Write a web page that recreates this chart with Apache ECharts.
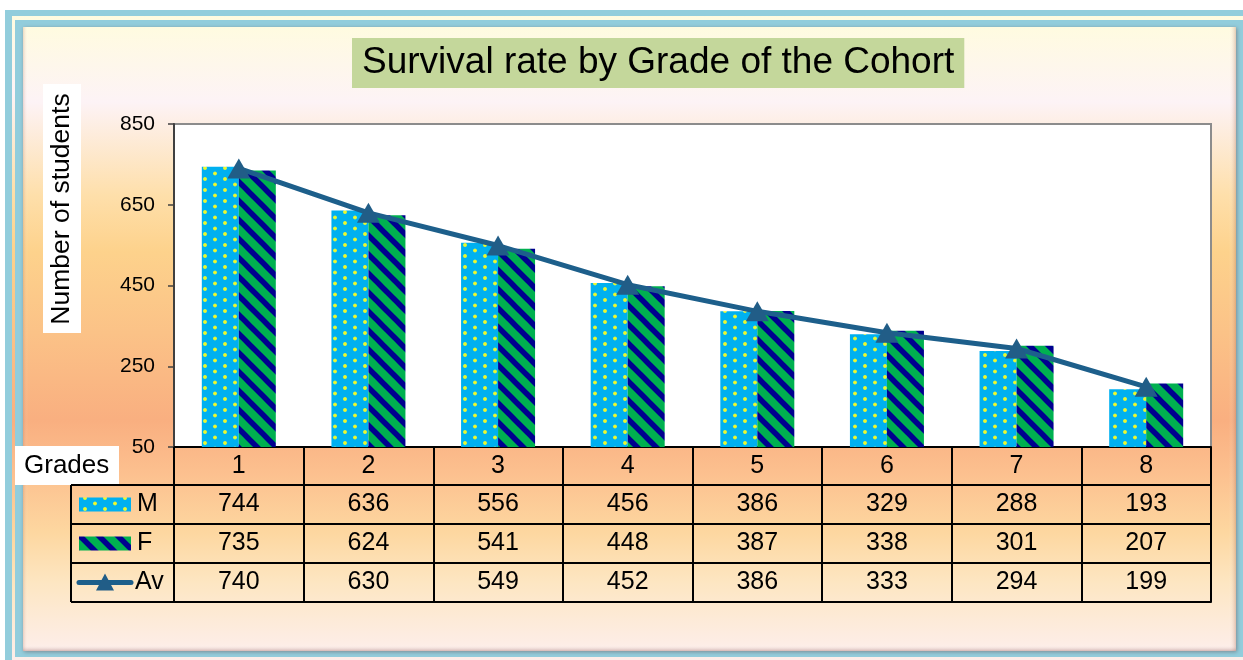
<!DOCTYPE html>
<html>
<head>
<meta charset="utf-8">
<script src="https://cdn.jsdelivr.net/npm/echarts@6/dist/echarts.min.js"></script>
<style>
html, body { margin: 0; padding: 0; background: #ffffff; }
#chart { width: 1243px; height: 660px; }
</style>
</head>
<body>
<div id="chart"></div>
<script>
// ---- data ----
const grades  = ['1', '2', '3', '4', '5', '6', '7', '8'];
const male    = [744, 636, 556, 456, 386, 329, 288, 193];
const female  = [735, 624, 541, 448, 387, 338, 301, 207];
const average = [740, 630, 549, 452, 386, 333, 294, 199];
const seriesNames = ['M', 'F', 'Av'];
const yMin = 50, yMax = 850, yStep = 200;

// ---- layout ----
const FONT = "'Liberation Sans', Arial, sans-serif";
const G = { left: 174, top: 124, right: 1211, bottom: 447 };
const rowOffsets = [38, 77, 116, 155];        // table row lines below the plot
const legendColX = 71;
const LINE_COLOR = '#1d5f8b';

// ---- fill patterns ----
function dotTile() {
  const c = document.createElement('canvas');
  c.width = 20; c.height = 22;
  const g = c.getContext('2d');
  g.fillStyle = '#00b0f0';
  g.fillRect(0, 0, 20, 22);
  [[5, 3], [15, 8.5], [5, 14], [15, 19.5]].forEach(([x, y]) => {
    const rg = g.createRadialGradient(x, y, 0, x, y, 2.5);
    rg.addColorStop(0, '#f8ff20');
    rg.addColorStop(0.6, '#daf23c');
    rg.addColorStop(1, 'rgba(120,220,170,0)');
    g.fillStyle = rg;
    g.beginPath(); g.arc(x, y, 2.5, 0, Math.PI * 2); g.fill();
  });
  return c;
}
function stripeTile() {
  const s = 19;
  const c = document.createElement('canvas');
  c.width = s; c.height = s;
  const g = c.getContext('2d');
  g.fillStyle = '#00b050';
  g.fillRect(0, 0, s, s);
  g.strokeStyle = '#00008f';
  g.lineWidth = 5.5;
  [-s, 0, s].forEach(k => {
    g.beginPath(); g.moveTo(-3, -3 + k); g.lineTo(s + 3, s + 3 + k); g.stroke();
  });
  return c;
}
const malePattern = { image: dotTile(), repeat: 'repeat' };
const femalePattern = { image: stripeTile(), repeat: 'repeat' };

// ---- background gradient ----
function panelGradient() {
  return {
    type: 'linear', x: 0, y: 0, x2: 0, y2: 1,
    colorStops: [
      { offset: 0.00, color: '#fffbe0' },
      { offset: 0.12, color: '#fdf3f6' },
      { offset: 0.27, color: '#fedfaa' },
      { offset: 0.36, color: '#fdd28c' },
      { offset: 0.49, color: '#fbc287' },
      { offset: 0.63, color: '#f9af80' },
      { offset: 0.71, color: '#fcbf8e' },
      { offset: 0.81, color: '#fdd7a0' },
      { offset: 0.89, color: '#fde6c2' },
      { offset: 1.00, color: '#fdeeea' }
    ]
  };
}

// ---- table axes (value rows) ----
function tableAxis(values, offset, showLabels) {
  return {
    type: 'category',
    gridIndex: 0,
    position: 'bottom',
    offset: offset,
    data: values.map(String),
    axisLine: { show: true, lineStyle: { color: '#000', width: 2 } },
    axisTick: { show: false },
    axisLabel: {
      show: showLabels, interval: 0, margin: 7,
      color: '#000', fontSize: 25, lineHeight: 25, fontFamily: FONT
    },
    splitLine: { show: false }
  };
}

// ---- decorations drawn as graphic elements ----
const rowLines = [G.bottom + rowOffsets[0], G.bottom + rowOffsets[1], G.bottom + rowOffsets[2], G.bottom + rowOffsets[3]];
const rowCenters = [
  (G.bottom + rowLines[0]) / 2,
  (rowLines[0] + rowLines[1]) / 2,
  (rowLines[1] + rowLines[2]) / 2,
  (rowLines[2] + rowLines[3]) / 2
];
const txt = (x, y, text, extra) => ({
  type: 'text', x: x, y: y, z: 120,
  style: Object.assign({ text: text, fill: '#000', font: '25px ' + FONT, align: 'left', verticalAlign: 'middle' }, extra || {})
});

const graphics = [
  // frame
  { type: 'rect', z: -30, shape: { x: 5, y: 10, width: 1238, height: 650 }, style: { fill: '#92cddc' } },
  { type: 'rect', z: -29, shape: { x: 12, y: 16, width: 1231, height: 644 }, style: { fill: panelGradient() } },
  { type: 'rect', z: -28, shape: { x: 15, y: 20, width: 1228, height: 637 }, style: { fill: '#92cddc' } },
  { type: 'rect', z: -27, shape: { x: 23, y: 27, width: 1213, height: 624 },
    style: { fill: panelGradient(), shadowBlur: 4, shadowColor: 'rgba(90,60,60,0.45)', shadowOffsetX: 1, shadowOffsetY: 1 } },
  { type: 'rect', z: -26, shape: { x: 1229, y: 27, width: 7, height: 624 },
    style: { fill: { type: 'linear', x: 0, y: 0, x2: 1, y2: 0, colorStops: [
      { offset: 0, color: 'rgba(255,255,255,0)' }, { offset: 1, color: 'rgba(170,110,90,0.35)' }] } } },
  { type: 'rect', z: -26, shape: { x: 23, y: 645, width: 1213, height: 6 },
    style: { fill: { type: 'linear', x: 0, y: 0, x2: 0, y2: 1, colorStops: [
      { offset: 0, color: 'rgba(255,255,255,0)' }, { offset: 1, color: 'rgba(150,100,100,0.4)' }] } } },
  { type: 'rect', z: -26, shape: { x: 23, y: 27, width: 5, height: 624 },
    style: { fill: { type: 'linear', x: 0, y: 0, x2: 1, y2: 0, colorStops: [
      { offset: 0, color: 'rgba(170,110,90,0.25)' }, { offset: 1, color: 'rgba(255,255,255,0)' }] } } },

  // y-axis title
  { type: 'rect', z: 110, shape: { x: 43, y: 84, width: 38, height: 249 }, style: { fill: '#ffffff' } },
  { type: 'text', z: 120, x: 62, y: 209, rotation: Math.PI / 2,
    style: { text: 'Number of students', fill: '#000', font: '26.5px ' + FONT, align: 'center', verticalAlign: 'middle' } },

  // "Grades" header cell
  { type: 'rect', z: 110, shape: { x: 15, y: 446, width: 104, height: 39 }, style: { fill: '#ffffff' } },
  txt(24, rowCenters[0], 'Grades', { font: '26px ' + FONT }),

  // legend column of the data table
  { type: 'line', z: 115, shape: { x1: legendColX, y1: rowLines[0], x2: legendColX, y2: rowLines[3] }, style: { stroke: '#000', lineWidth: 2 } },
  ...rowLines.map(y => ({ type: 'line', z: 115, shape: { x1: legendColX, y1: y, x2: G.left, y2: y }, style: { stroke: '#000', lineWidth: 2 } })),
  { type: 'rect', z: 115, shape: { x: 79, y: rowCenters[1] - 7, width: 52, height: 14 }, style: { fill: malePattern } },
  { type: 'rect', z: 115, shape: { x: 79, y: rowCenters[2] - 7, width: 52, height: 14 }, style: { fill: femalePattern } },
  { type: 'line', z: 115, shape: { x1: 79, y1: rowCenters[3], x2: 131, y2: rowCenters[3] },
    style: { stroke: LINE_COLOR, lineWidth: 5, lineCap: 'round' } },
  { type: 'polygon', z: 116, shape: { points: [[96, rowCenters[3] + 8], [114, rowCenters[3] + 8], [105, rowCenters[3] - 9]] },
    style: { fill: '#215d87' } },
  txt(137, rowCenters[1], seriesNames[0]),
  txt(137, rowCenters[2], seriesNames[1]),
  txt(135, rowCenters[3], seriesNames[2])
];

// ---- chart ----
const chart = echarts.init(document.getElementById('chart'), null, { renderer: 'canvas' });
chart.setOption({
  animation: false,
  backgroundColor: 'transparent',
  textStyle: { fontFamily: FONT },
  title: {
    text: 'Survival rate by Grade of the Cohort',
    left: 352, top: 38,
    padding: [5, 10, 5, 10],
    backgroundColor: '#c4d79b',
    textStyle: { fontSize: 37, fontWeight: 'normal', color: '#000', fontFamily: FONT, lineHeight: 40 }
  },
  grid: {
    left: G.left, top: G.top, right: 1243 - G.right, bottom: 660 - G.bottom,
    show: true, backgroundColor: '#ffffff', borderColor: '#8c8c8c', borderWidth: 2,
    containLabel: false, outerBoundsMode: 'none'
  },
  xAxis: [
    {
      type: 'category',
      data: grades,
      axisLine: { show: true, lineStyle: { color: '#000', width: 2 } },
      axisTick: { show: true, interval: 0, length: rowOffsets[3], lineStyle: { color: '#000', width: 2 } },
      axisLabel: { interval: 0, margin: 7, color: '#000', fontSize: 25, lineHeight: 25, fontFamily: FONT },
      splitLine: { show: false }
    },
    tableAxis(male, rowOffsets[0], true),
    tableAxis(female, rowOffsets[1], true),
    tableAxis(average, rowOffsets[2], true),
    tableAxis(grades, rowOffsets[3], false)
  ],
  yAxis: {
    type: 'value',
    min: yMin, max: yMax, interval: yStep,
    axisLine: { show: true, lineStyle: { color: '#404040', width: 2 } },
    axisTick: { show: true, length: 6, lineStyle: { color: '#404040', width: 1.5 } },
    axisLabel: { margin: 19, color: '#000', fontSize: 21, fontFamily: FONT },
    splitLine: { show: false }
  },
  series: [
    {
      name: seriesNames[0], type: 'bar', xAxisIndex: 0, data: male,
      barWidth: 37, barGap: '0%',
      itemStyle: { color: malePattern }
    },
    {
      name: seriesNames[1], type: 'bar', xAxisIndex: 0, data: female,
      barWidth: 37, barGap: '0%',
      itemStyle: { color: femalePattern }
    },
    {
      name: seriesNames[2], type: 'line', xAxisIndex: 0, data: average,
      z: 5,
      lineStyle: { color: LINE_COLOR, width: 5 },
      symbol: 'triangle', symbolSize: [23, 20],
      itemStyle: { color: '#215d87' }
    }
  ],
  graphic: { elements: graphics }
});
</script>
</body>
</html>
